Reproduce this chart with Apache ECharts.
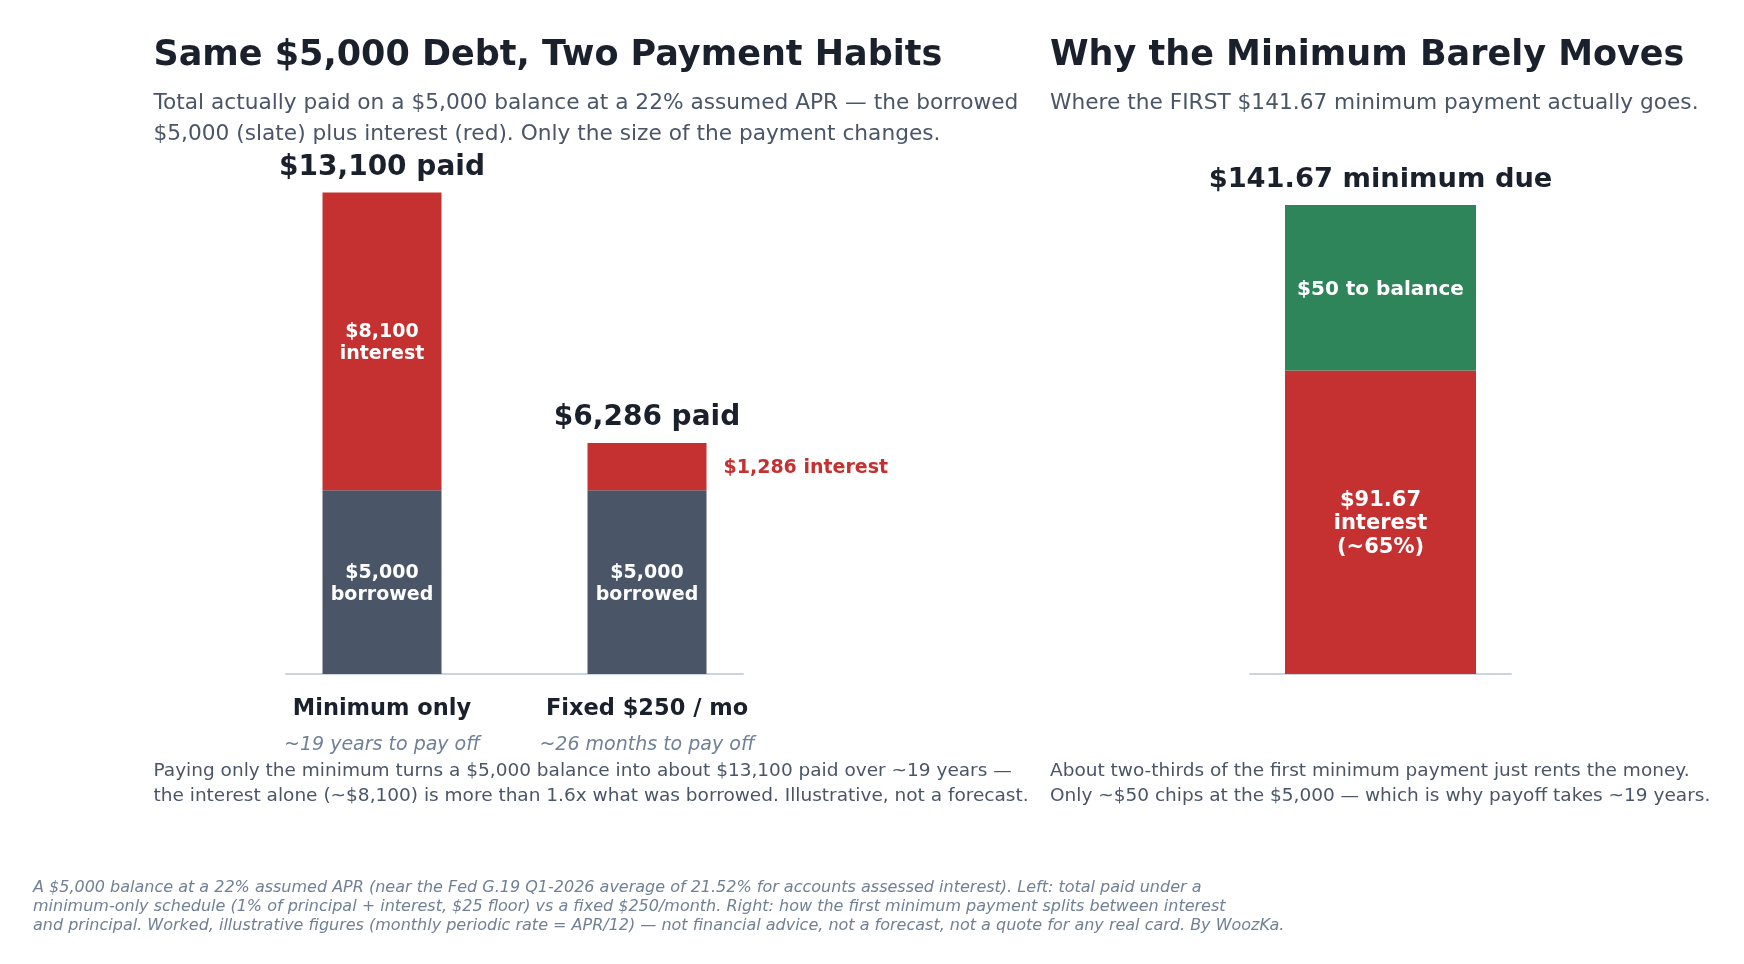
<!DOCTYPE html>
<html>
<head>
<meta charset="utf-8">
<script src="https://cdn.jsdelivr.net/npm/echarts@6/dist/echarts.min.js"></script>
<style>
  html, body { margin: 0; padding: 0; background: #fff; }
  #chart { width: 1744px; height: 964px; }
</style>
</head>
<body>
<div id="chart"></div>
<script>
// left panel: total paid under two payment habits
const leftCategories = ['Minimum only', 'Fixed $250 / mo'];
const leftPayoff = ['~19 years to pay off', '~26 months to pay off'];
const borrowed = [5000, 5000];
const interest = [8100, 1286];
const totalPaid = [13100, 6286];

// right panel: split of the first minimum payment
const rightCategory = ['First payment'];
const interestPart = [91.67];
const principalPart = [50];
const minimumDue = [141.67];

(() => {
    const FONT = 'DejaVu Sans';
    const DARK = '#1a202c';
    const SLATE_TEXT = '#4a5568';
    const MUTED = '#718096';
    const RED = '#c53030';
    const SLATE = '#4a5568';
    const GREEN = '#2f855a';
    const AXIS = '#cbd5e0';

    const money = v => '$' + v.toLocaleString('en-US');

    const chart = echarts.init(document.getElementById('chart'));

    function text(str, left, top, size, opts) {
        return {
            text: str, left: left, top: top, padding: 0,
            textStyle: Object.assign({
                fontFamily: FONT, fontSize: size, color: SLATE_TEXT,
                fontWeight: 'normal', lineHeight: size * 1.4
            }, opts || {})
        };
    }

    const insideLabel = (size, lh) => ({
        show: true, position: 'inside', offset: [0, 1.5], color: '#fff', fontFamily: FONT,
        fontWeight: 'bold', fontSize: size, lineHeight: lh
    });

    const totalLabel = (formatter, size, dist) => ({
        show: true, position: 'top', distance: dist, color: DARK, fontFamily: FONT,
        fontWeight: 'bold', fontSize: size, lineHeight: 30, formatter: formatter
    });

    const option = {
        animation: false,
        title: [
            text('Same $5,000 Debt, Two Payment Habits', 153.5, 35.6, 35,
                { color: DARK, fontWeight: 'bold', lineHeight: 40 }),
            text('Total actually paid on a $5,000 balance at a 22% assumed APR \u2014 the borrowed\n$5,000 (slate) plus interest (red). Only the size of the payment changes.',
                153.5, 88.2, 21.7, { lineHeight: 30.5 }),
            text('Why the Minimum Barely Moves', 1050, 35.6, 35,
                { color: DARK, fontWeight: 'bold', lineHeight: 40 }),
            text('Where the FIRST $141.67 minimum payment actually goes.', 1050, 88.2, 21.7,
                { lineHeight: 30.5 }),
            text('Paying only the minimum turns a $5,000 balance into about $13,100 paid over ~19 years \u2014\nthe interest alone (~$8,100) is more than 1.6x what was borrowed. Illustrative, not a forecast.',
                153.5, 758, 18.5, { lineHeight: 25.5 }),
            text('About two-thirds of the first minimum payment just rents the money.\nOnly ~$50 chips at the $5,000 \u2014 which is why payoff takes ~19 years.',
                1050, 758, 18.5, { lineHeight: 25.5 }),
            text('A $5,000 balance at a 22% assumed APR (near the Fed G.19 Q1-2026 average of 21.52% for accounts assessed interest). Left: total paid under a\nminimum-only schedule (1% of principal + interest, $25 floor) vs a fixed $250/month. Right: how the first minimum payment splits between interest\nand principal. Worked, illustrative figures (monthly periodic rate = APR/12) \u2014 not financial advice, not a forecast, not a quote for any real card. By WoozKa.',
                33, 878.3, 16, { color: MUTED, fontStyle: 'italic', lineHeight: 19 })
        ],
        grid: [
            { left: 249.5, width: 530, top: 159.4, height: 514.6 },
            { left: 286, width: 457, top: 159.4, height: 514.6 },
            { left: 1250, width: 261, top: 144.4, height: 529.6 }
        ],
        xAxis: [
            {
                type: 'category', gridIndex: 0, data: leftCategories,
                axisLine: { show: false }, axisTick: { show: false },
                axisLabel: {
                    margin: 17.5,
                    formatter: (v, i) => `{a|${v}}\n{b|${leftPayoff[i]}}`,
                    rich: {
                        a: { fontFamily: FONT, fontWeight: 'bold', fontSize: 22.5, color: DARK, lineHeight: 35.5 },
                        b: { fontFamily: FONT, fontStyle: 'italic', fontSize: 19, color: MUTED, lineHeight: 35.5 }
                    }
                }
            },
            {
                // baseline only, shorter than the bar band
                type: 'value', gridIndex: 1, min: 0, max: 1,
                axisLine: { show: true, lineStyle: { color: AXIS, width: 2 } },
                axisTick: { show: false }, axisLabel: { show: false }, splitLine: { show: false }
            },
            {
                type: 'category', gridIndex: 2, data: rightCategory,
                axisLine: { show: true, lineStyle: { color: AXIS, width: 2 } },
                axisTick: { show: false }, axisLabel: { show: false }
            }
        ],
        yAxis: [
            { type: 'value', gridIndex: 0, min: 0, max: 14000, show: false },
            { type: 'value', gridIndex: 1, min: 0, max: 1, show: false },
            { type: 'value', gridIndex: 2, min: 0, max: 160, show: false }
        ],
        series: [
            {
                name: 'Borrowed', type: 'bar', stack: 'left', xAxisIndex: 0, yAxisIndex: 0,
                barWidth: 119, itemStyle: { color: SLATE },
                label: Object.assign(insideLabel(19, 22), {
                    formatter: p => `${money(p.value)}\nborrowed`
                }),
                data: borrowed
            },
            {
                name: 'Interest', type: 'bar', stack: 'left', xAxisIndex: 0, yAxisIndex: 0,
                barWidth: 119, itemStyle: { color: RED },
                data: interest.map((v, i) => ({
                    value: v,
                    label: i === 0
                        ? Object.assign(insideLabel(19, 22), { formatter: `${money(v)}\ninterest` })
                        : {
                            show: true, position: 'right', distance: 17, offset: [0, 1],
                            color: RED, fontFamily: FONT, fontWeight: 'bold', fontSize: 19,
                            formatter: `${money(v)} interest`
                        }
                }))
            },
            {
                name: 'Total', type: 'bar', stack: 'left', xAxisIndex: 0, yAxisIndex: 0,
                barWidth: 119, silent: true, itemStyle: { color: 'transparent' },
                label: totalLabel(p => `${money(totalPaid[p.dataIndex])} paid`, 28, 10),
                data: totalPaid.map(() => 0)
            },
            {
                name: 'Interest part', type: 'bar', stack: 'right', xAxisIndex: 2, yAxisIndex: 2,
                barWidth: 191, itemStyle: { color: RED },
                label: Object.assign(insideLabel(21, 23.5), {
                    formatter: p => `${money(p.value)}\ninterest\n(~${Math.round(p.value / minimumDue[0] * 100)}%)`
                }),
                data: interestPart
            },
            {
                name: 'To balance', type: 'bar', stack: 'right', xAxisIndex: 2, yAxisIndex: 2,
                barWidth: 191, itemStyle: { color: GREEN },
                label: Object.assign(insideLabel(20, 23), {
                    formatter: p => `${money(p.value)} to balance`
                }),
                data: principalPart
            },
            {
                name: 'Due', type: 'bar', stack: 'right', xAxisIndex: 2, yAxisIndex: 2,
                barWidth: 191, silent: true, itemStyle: { color: 'transparent' },
                label: totalLabel(p => `${money(minimumDue[p.dataIndex])} minimum due`, 27.3, 10),
                data: minimumDue.map(() => 0)
            }
        ]
    };

    chart.setOption(option);
})();
</script>
</body>
</html>
